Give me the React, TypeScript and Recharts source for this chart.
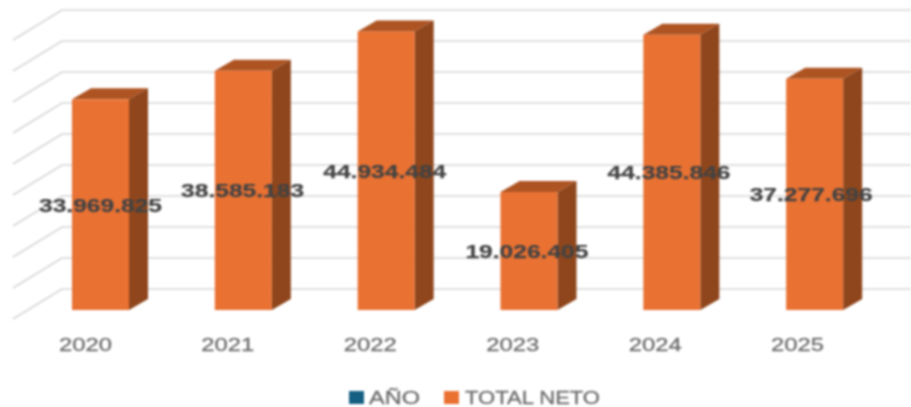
import React from "react";
import { BarChart, Bar, XAxis, YAxis, CartesianGrid, Legend, LabelList } from "recharts";

const years = ["2020", "2021", "2022", "2023", "2024", "2025"];
const anio = [2020, 2021, 2022, 2023, 2024, 2025];
const totalNeto = [33969825, 38585183, 44934484, 19026405, 44385846, 37277696];
const yTicks = [0, 5000000, 10000000, 15000000, 20000000, 25000000, 30000000, 35000000, 40000000, 45000000];

const data = years.map((year, i) => ({ year, "AÑO": anio[i], "TOTAL NETO": totalNeto[i] }));

const FONT = "'Liberation Sans', Arial, sans-serif";
const ORANGE = "#E97132";
const BLUE = "#156082";
const SHIFT = 15; // bars stand further right than their tick labels (oblique projection)
const DX = 19;
const DY = 11;

const fmt = (v: number) => String(v).replace(/\B(?=(\d{3})+(?!\d))/g, ".");

const Bar3D = (p: any) => {
  const x = p.x + SHIFT;
  const { y, width: w, height: h } = p;
  if (!(h > 1)) return null;
  return (
    <g>
      <polygon points={`${x},${y} ${x + DX},${y - DY} ${x + w + DX},${y - DY} ${x + w},${y}`} fill="#AE5423" />
      <polygon
        points={`${x + w},${y} ${x + w + DX},${y - DY} ${x + w + DX},${y + h - DY} ${x + w},${y + h}`}
        fill="#8F461C"
      />
      <rect x={x} y={y} width={w} height={h} fill={ORANGE} />
    </g>
  );
};

const GridLine = (p: any) => {
  const { x1, y1 } = p;
  return (
    <path
      key={p.key ?? y1}
      d={`M${x1 - 1},${y1 + 9} L${x1 + 48},${y1 - 21} L911,${y1 - 21}`}
      fill="none"
      stroke="#D6D6D6"
      strokeWidth={1.6}
    />
  );
};

const ValueLabel = (p: any) => {
  const { x, y, width, height, value, index } = p;
  return (
    <text
      x={x + width / 2 + SHIFT - 61.5 - (index ?? 0) * 0.7}
      y={y + height / 2 + 7}
      textLength={123}
      lengthAdjust="spacingAndGlyphs"
      fontFamily={FONT}
      fontSize={19}
      fontWeight="bold"
      fill="#434343"
      stroke="#434343"
      strokeWidth={0.25}
    >
      {fmt(value)}
    </text>
  );
};

const YearTick = (p: any) => (
  <text
    x={p.x - 26.5 - (p.index ?? 0) * 0.4}
    y={p.y + 6}
    textLength={53}
    lengthAdjust="spacingAndGlyphs"
    fontFamily={FONT}
    fontSize={19}
    fill="#6C6C6C"
    stroke="#6C6C6C"
    strokeWidth={0.3}
  >
    {p.payload.value}
  </text>
);

const LegendBox = (props: any) => {
  const items = props.payload ?? [];
  const layout = [
    { sq: 349, tx: 369, len: 51 },
    { sq: 444, tx: 465, len: 135 },
  ];
  return (
    <svg width={911} height={22} style={{ display: "block" }}>
      {items.map((it: any, i: number) => (
        <g key={it.value}>
          <rect x={layout[i].sq} y={6} width={15} height={13} fill={it.color} />
          <text
            x={layout[i].tx}
            y={18.5}
            textLength={layout[i].len}
            lengthAdjust="spacingAndGlyphs"
            fontFamily={FONT}
            fontSize={18}
            fill="#6C6C6C"
            stroke="#6C6C6C"
            strokeWidth={0.3}
          >
            {it.value}
          </text>
        </g>
      ))}
    </svg>
  );
};

export default function App() {
  return (
    <div style={{ position: "absolute", left: 0, top: 0, width: 911, height: 407, filter: "blur(0.8px)", overflow: "hidden" }}>
      <BarChart
        width={911}
        height={407}
        data={data}
        margin={{ top: 31, right: 40, bottom: 35, left: 14 }}
        style={{ background: "#fff" }}
      >
        <CartesianGrid vertical={false} horizontal={GridLine} horizontalValues={yTicks} />
        <XAxis dataKey="year" axisLine={false} tickLine={false} height={40} tick={YearTick} tickMargin={29} interval={0} />
        <YAxis hide domain={[0, 45000000]} ticks={yTicks} />
        <Legend
          verticalAlign="bottom"
          height={22}
          content={LegendBox}
          wrapperStyle={{ left: 0, width: 911, bottom: 0, top: 385 }}
        />
        <Bar dataKey="AÑO" stackId="a" fill={BLUE} barSize={57} shape={Bar3D} isAnimationActive={false} />
        <Bar dataKey="TOTAL NETO" stackId="a" fill={ORANGE} barSize={57} shape={Bar3D} isAnimationActive={false}>
          <LabelList dataKey="TOTAL NETO" content={ValueLabel} />
        </Bar>
      </BarChart>
    </div>
  );
}
